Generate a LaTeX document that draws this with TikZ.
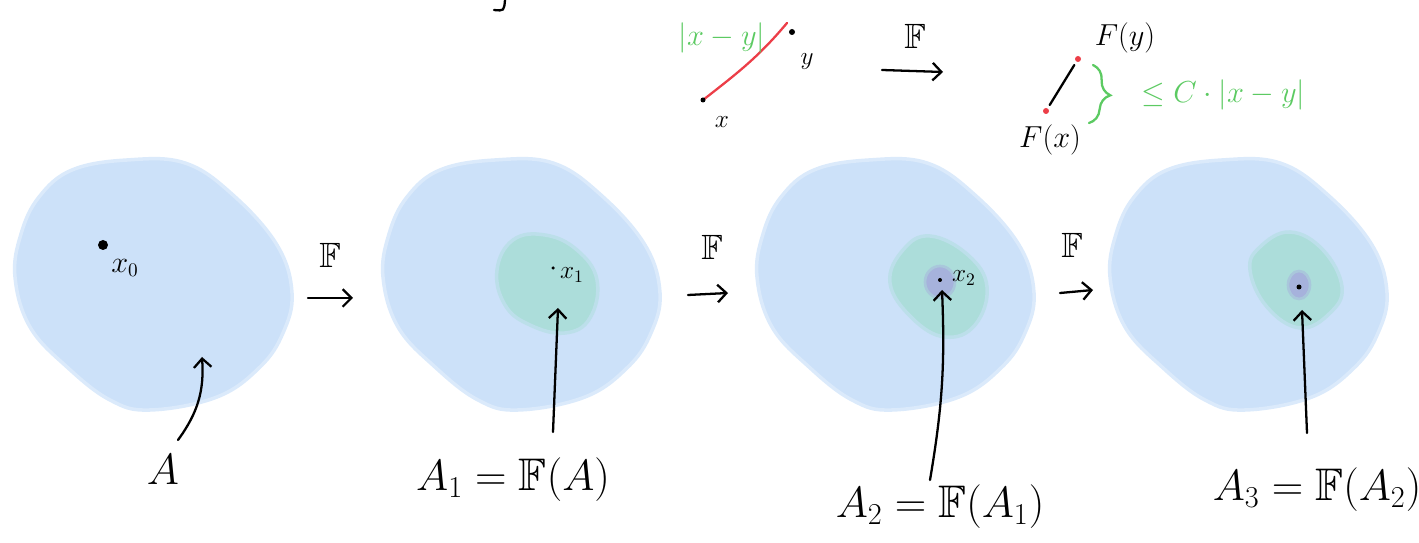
\documentclass[tikz,border=0pt]{standalone}
\usepackage{amsmath, amssymb}
\usetikzlibrary{calc, arrows.meta, decorations.pathreplacing}

\definecolor{blobblue}{RGB}{204,225,249}
\definecolor{blobgreen}{RGB}{172,221,218}
\definecolor{blobpurple}{RGB}{166,178,220}
\definecolor{penred}{RGB}{236,62,72}
\definecolor{pengreen}{RGB}{92,202,98}

\tikzset{
  pen/.style={line width=1.3pt, line cap=round},
  blob/.style={insert path={plot[smooth cycle, tension=0.65] coordinates {
    (0.30,5.32) (0.42,6.18) (0.78,6.92) (1.44,7.46) (2.54,7.66) (3.70,7.60)
    (4.66,6.96) (5.54,5.96) (5.84,5.00) (5.66,4.20) (5.20,3.52) (4.34,2.92)
    (3.00,2.66) (2.20,2.86) (1.34,3.52) (0.60,4.32)}}},
  bluearea/.style={fill=blobblue, draw=blobblue!70!white, line width=2pt},
  greenarea/.style={fill=blobgreen, draw=blobgreen!50!blobblue, line width=2pt},
  purplearea/.style={fill=blobpurple, draw=blobpurple!50!blobgreen, line width=1.5pt},
  hugetxt/.style={font=\fontsize{36}{42}\selectfont},
  bigtxt/.style={font=\fontsize{26}{30}\selectfont},
  maptxt/.style={font=\fontsize{20}{24}\selectfont},
  midtxt/.style={font=\fontsize{19}{23}\selectfont},
  smalltxt/.style={font=\fontsize{16}{19}\selectfont},
  tinytxt/.style={font=\fontsize{14}{16}\selectfont}
}

\begin{document}
\begin{tikzpicture}[>={Straight Barb[length=5pt,width=10pt]}]
    \useasboundingbox (0,0) rectangle (28.38,10.86);
    % the four sets
    \path[bluearea, blob];
    \path[bluearea, xshift=7.36cm, blob];
    \path[bluearea, xshift=14.84cm, blob];
    \path[bluearea, xshift=21.90cm, blob];
    \path[greenarea] plot[smooth cycle, tension=0.7] coordinates {
      (9.94,5.46) (10.26,6.06) (10.90,6.16) (11.54,5.86) (11.94,5.26)
      (11.80,4.50) (11.30,4.20) (10.60,4.36) (10.10,4.76)};
    \path[greenarea] plot[smooth cycle, tension=0.7] coordinates {
      (17.80,5.20) (18.06,5.86) (18.60,6.14) (19.36,5.76) (19.74,5.12)
      (19.50,4.36) (18.90,4.12) (18.24,4.50)};
    \path[greenarea] plot[smooth cycle, tension=0.7] coordinates {
      (25.00,5.46) (25.20,5.92) (25.80,6.22) (26.46,5.86) (26.84,5.12)
      (26.60,4.60) (26.00,4.30) (25.34,4.72)};
    \path[purplearea] (18.80,5.22) ellipse (0.30cm and 0.32cm);
    \path[purplearea] (25.98,5.16) ellipse (0.22cm and 0.28cm);

    % points
    \coordinate (X0) at (2.06,5.96);
    \coordinate (X1) at (11.06,5.50);
    \coordinate (X2) at (18.80,5.26);
    \coordinate (X3) at (25.98,5.12);
    \coordinate (X) at (14.06,8.86);
    \coordinate (Y) at (15.84,10.22);
    \coordinate (Ytop) at (15.74,10.40);
    \coordinate (FX) at (20.92,8.64);
    \coordinate (FY) at (21.56,9.68);
    \coordinate (BT) at (21.86,9.56);
    \coordinate (BB) at (21.78,8.40);
    \fill (X0) circle (0.1);
    \fill (X1) circle (0.035);
    \fill (X2) circle (0.04);
    \fill (X3) circle (0.05);
    \node[smalltxt] (lx0) at (2.50,5.50) {$x_0$};
    \node[tinytxt] (lx1) at (11.44,5.36) {$x_1$};
    \node[tinytxt] (lx2) at (19.28,5.30) {$x_2$};

    % maps between the sets
    \coordinate (f1a) at (6.16,4.90);
    \coordinate (f1b) at (7.06,4.90);
    \coordinate (f2a) at (13.76,4.96);
    \coordinate (f2b) at (14.56,5.00);
    \coordinate (f3a) at (21.20,5.00);
    \coordinate (f3b) at (21.86,5.06);
    \draw[pen, ->] (f1a) -- (f1b);
    \draw[pen, ->] (f2a) -- (f2b);
    \draw[pen, ->] (f3a) -- (f3b);
    \node[maptxt] (F1) at (6.60,5.76) {$\mathbb{F}$};
    \node[maptxt] (F2) at (14.24,5.92) {$\mathbb{F}$};
    \node[maptxt] (F3) at (21.44,5.96) {$\mathbb{F}$};

    % labels of the sets
    \node[hugetxt] (A) at (3.26,1.46) {$A$};
    \node[bigtxt] (A1) at (10.26,1.26) {$A_1 = \mathbb{F}(A)$};
    \node[bigtxt] (A2) at (18.80,0.72) {$A_2 = \mathbb{F}(A_1)$};
    \node[bigtxt] (A3) at (26.34,1.06) {$A_3 = \mathbb{F}(A_2)$};
    \coordinate (a0) at (3.56,2.06);
    \coordinate (t0) at (4.04,3.72);
    \coordinate (a1) at (11.06,2.22);
    \coordinate (t1) at (11.16,4.70);
    \coordinate (a2) at (18.60,1.26);
    \coordinate (t2) at (18.84,5.06);
    \coordinate (a3) at (26.14,2.20);
    \coordinate (t3) at (26.04,4.66);
    \draw[pen, ->] (a0) to[bend right=20] (t0);
    \draw[pen, ->] (a1) -- (t1);
    \draw[pen, ->] (a2) to[bend right=6] (t2);
    \draw[pen, ->] (a3) -- (t3);

    % Lipschitz sketch
    \draw[pen, penred] (X) to[out=38, in=230] (Ytop);
    \fill (X) circle (0.05);
    \fill (Y) circle (0.06);
    \node[tinytxt] (lx) at (14.44,8.42) {$x$};
    \node[tinytxt] (ly) at (16.14,9.62) {$y$};
    \node[smalltxt, pengreen] (dist) at (14.44,10.10) {$|x-y|$};
    \coordinate (fta) at (17.64,9.46);
    \coordinate (ftb) at (18.86,9.42);
    \draw[pen, ->] (fta) -- (ftb);
    \node[maptxt] (Ftop) at (18.30,10.14) {$\mathbb{F}$};
    \draw[pen, shorten <=4pt, shorten >=4pt] (FX) -- (FY);
    \fill[penred] (FX) circle (0.06);
    \fill[penred] (FY) circle (0.06);
    \node[smalltxt] (lFy) at (22.50,10.10) {$F(y)$};
    \node[smalltxt] (lFx) at (21.00,8.06) {$F(x)$};
    \draw[pen, pengreen, decorate, decoration={brace, amplitude=11pt}] (BT) -- (BB);
    \node[midtxt, pengreen, anchor=west] (bound) at (22.70,8.96) {$\le C\cdot|x-y|$};

    % cut off stroke at the top edge
    \draw[pen] (10.10,10.86) .. controls (10.08,10.64) .. (9.88,10.66);
\end{tikzpicture}
\end{document}
